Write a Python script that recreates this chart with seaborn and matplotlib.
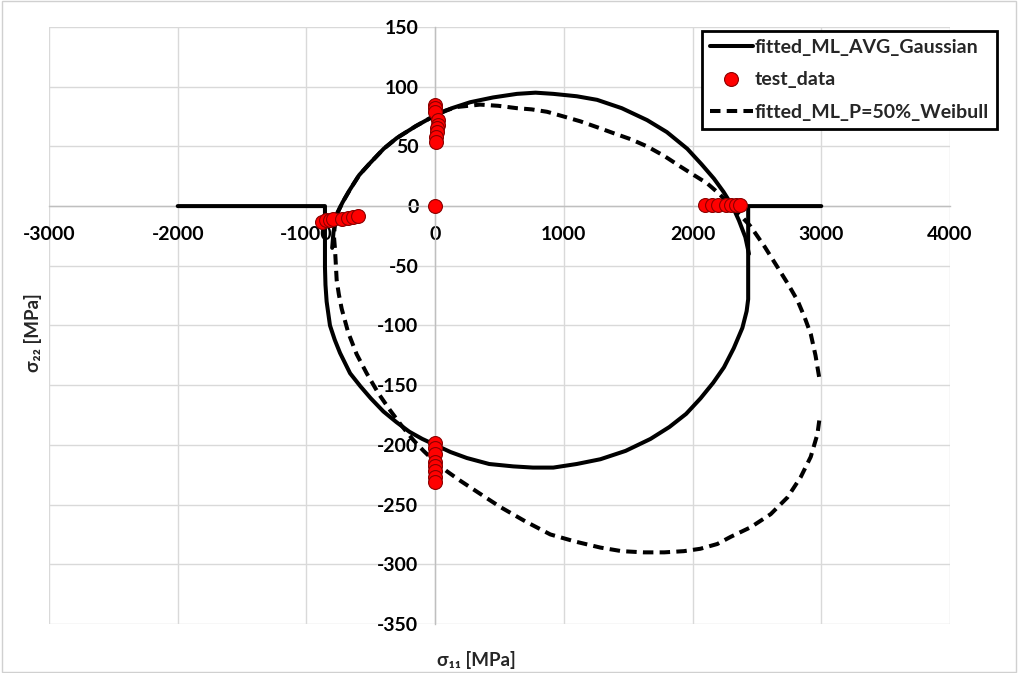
import matplotlib
matplotlib.use("Agg")
import matplotlib.pyplot as plt
import seaborn as sns
from matplotlib.lines import Line2D
from matplotlib.patches import Rectangle

# ---------------- data ----------------
# fitted_ML_AVG_Gaussian : main branch (left tail, lower arc, right tail)
gauss_low_x = [-2000, -856, -856, -852, -843, -817, -780, -739, -661, -580, -500,
               -402, -300, -200, -100, 0, 120, 247, 420, 607, 760, 918, 1100,
               1284, 1480, 1673, 1820, 1950, 2062, 2160, 2244, 2320, 2387, 2420,
               2432, 2432, 3000]
gauss_low_y = [0, 0, -51, -66, -80, -100, -112, -123, -140, -151, -161,
               -172, -181, -189, -195, -200, -206, -211, -216, -218, -219, -219, -216,
               -212, -205, -195, -185, -174, -161, -148, -135, -119, -102, -88,
               -78, 0, 0]
# fitted_ML_AVG_Gaussian : upper arc
gauss_up_x = [-800, -790, -765, -720, -661, -590, -506, -400, -298, -150, 0, 130,
              272, 450, 636, 780, 918, 1100, 1258, 1450, 1647, 1800, 1959, 2070,
              2166, 2240, 2310, 2360, 2410, 2438]
gauss_up_y = [-35, -22, -7, 3, 14, 26, 36, 48, 57, 67, 76, 82,
              87, 91, 94, 95, 94, 92, 89, 82, 72, 62, 48, 35,
              23, 12, 0, -12, -26, -40]

# fitted_ML_P=50%_Weibull
weib_x = [2983, 2955, 2918, 2870, 2815, 2740, 2659, 2560, 2451, 2375, 2296, 2210,
          2114, 2010, 1907, 1780, 1647, 1520, 1388, 1260, 1128, 1000, 869, 750,
          636, 490, 350, 169, 80, 0, -150, -298, -400, -506, -590, -661, -720,
          -765, -782, -785, -778, -765, -748, -726, -675, -610, -532, -440, -350,
          -260, -169, -90, -13, 90, 195, 350, 506, 700, 895, 1090, 1284, 1450,
          1621, 1780, 1932, 2060, 2192, 2296, 2451, 2607, 2737, 2840, 2918, 2970,
          2990]
weib_y = [-143, -125, -107, -93, -79, -65, -51, -34, -17, -8, 0, 10,
          19, 26, 33, 42, 50, 56, 61, 66, 71, 75, 79, 81,
          82, 84, 85, 83, 80, 76, 67, 57, 48, 36, 26, 14, 3,
          -7, -18, -27, -36, -62, -74, -86, -106, -124, -140, -157, -171,
          -184, -196, -205, -213, -222, -230, -241, -252, -264, -275, -281, -286, -289,
          -290, -290, -289, -287, -283, -277, -269, -258, -244, -227, -210, -191,
          -175]

# test_data
test_left_x = [-880, -850, -820, -790, -720, -680, -640, -600]
test_left_y = [-13, -12, -12, -11, -11, -10, -9, -8]
test_top_x = [0, 0, 0, 25, 20, 15, 15, 10, 5]
test_top_y = [85, 82, 79, 72, 68, 65, 62, 58, 54]
test_orig_x = [0]
test_orig_y = [0]
test_bot_x = [0, 0, 0, 0, 0, 0, 0, 0]
test_bot_y = [-198, -203, -208, -214, -218, -222, -227, -231]
test_right_x = [2100, 2150, 2200, 2260, 2300, 2340, 2370]
test_right_y = [1, 1, 1, 1, 1, 1, 1]

x_ticks = list(range(-3000, 4001, 1000))
y_ticks = list(range(-350, 151, 50))

labels = ["fitted_ML_AVG_Gaussian", "test_data", "fitted_ML_P=50%_Weibull"]

# ---------------- plotting ----------------
sns.set_style("white")
plt.rcParams["font.family"] = ["Lato", "DejaVu Sans"]
plt.rcParams["font.weight"] = "bold"
plt.rcParams["axes.unicode_minus"] = False

W, H = 1018, 673
fig = plt.figure(figsize=(W / 100, H / 100), dpi=100)
ax = fig.add_axes([49 / W, 1 - 624 / H, (950 - 49) / W, (624 - 27) / H])

lw = 2.9
dash = (0, (2.6, 1.55))
sns.lineplot(x=gauss_low_x, y=gauss_low_y, sort=False, estimator=None,
             color="black", lw=lw, ax=ax, zorder=2)
sns.lineplot(x=gauss_up_x, y=gauss_up_y, sort=False, estimator=None,
             color="black", lw=lw, ax=ax, zorder=2)

test_x = test_left_x + test_top_x + test_orig_x + test_bot_x + test_right_x
test_y = test_left_y + test_top_y + test_orig_y + test_bot_y + test_right_y
sns.scatterplot(x=test_x, y=test_y, s=100, color="#ff0000", edgecolor="#8b0000",
                linewidth=0.8, ax=ax, zorder=4)

sns.lineplot(x=weib_x, y=weib_y, sort=False, estimator=None,
             color="black", lw=lw, ax=ax, zorder=3, linestyle=dash)

ax.set_xlim(-3000, 4000)
ax.set_ylim(-350, 150)
ax.set_xticks(x_ticks)
ax.set_yticks(y_ticks)
ax.grid(True, color="#d9d9d9", lw=1)
ax.set_axisbelow(True)

for s in ["top", "right"]:
    ax.spines[s].set_visible(False)
ax.spines["left"].set_position(("data", 0))
ax.spines["bottom"].set_position(("data", 0))
for s in ["left", "bottom"]:
    ax.spines[s].set_color("#bfbfbf")
    ax.spines[s].set_linewidth(1)
    ax.spines[s].set_zorder(1)

ax.tick_params(axis="both", length=0, labelsize=14, labelcolor="black")
ax.tick_params(axis="x", pad=14)
ax.tick_params(axis="y", pad=12)
for t in ax.get_xticklabels() + ax.get_yticklabels():
    t.set_fontweight("bold")
ax.set_xlabel("")
ax.set_ylabel("")

fig.text(33 / W, 1 - 333 / H, "σ₂₂ [MPa]", rotation=90, ha="center", va="center",
         fontsize=13.5, fontweight="bold")
fig.text(476 / W, 1 - 660 / H, "σ₁₁ [MPa]", ha="center", va="center",
         fontsize=13.5, fontweight="bold")

handles = [
    Line2D([], [], color="black", lw=lw),
    Line2D([], [], color="none", marker="o", markersize=10,
           markerfacecolor="#ff0000", markeredgecolor="#8b0000", markeredgewidth=0.8),
    Line2D([], [], color="black", lw=lw, linestyle=dash),
]
leg = fig.legend(handles, labels, loc="upper left",
                 bbox_to_anchor=(702 / W, 1 - 31 / H),
                 frameon=True, fancybox=False, framealpha=1, edgecolor="black",
                 borderpad=0.4, handlelength=2.2, handletextpad=0.12,
                 labelspacing=0.8, borderaxespad=0,
                 prop={"weight": "bold", "size": 14})
leg.get_frame().set_linewidth(2)

fig.patches.append(Rectangle((0.002, 0.002), 0.996, 0.996, transform=fig.transFigure,
                             fill=False, edgecolor="#d0d0d0", lw=1))

fig.savefig("out.png", dpi=100)
